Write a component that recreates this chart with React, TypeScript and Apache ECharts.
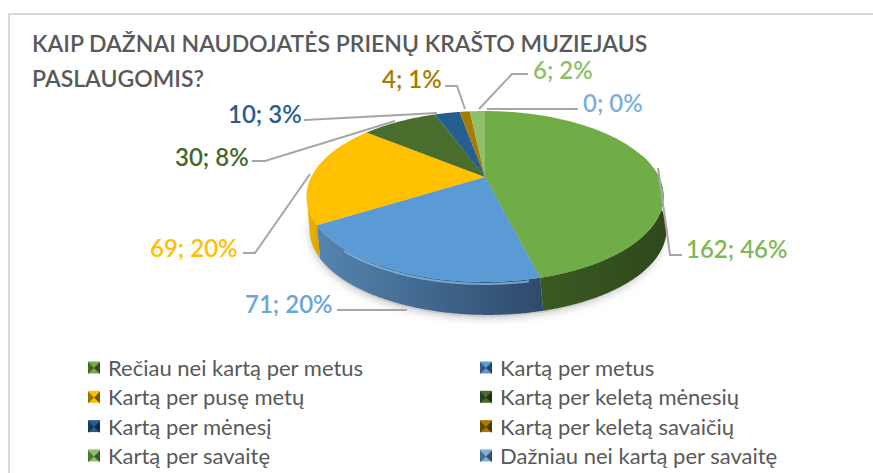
import React, { useEffect, useRef } from "react";
import * as echarts from "echarts";

const titleLines = ["KAIP DAŽNAI NAUDOJATĖS PRIENŲ KRAŠTO MUZIEJAUS", "PASLAUGOMIS?"];
const categories = [
  "Rečiau nei kartą per metus",
  "Kartą per metus",
  "Kartą per pusę metų",
  "Kartą per keletą mėnesių",
  "Kartą per mėnesį",
  "Kartą per keletą savaičių",
  "Kartą per savaitę",
  "Dažniau nei kartą per savaitę",
];
const values = [162, 71, 69, 30, 10, 4, 6, 0];
const percents = [46, 20, 20, 8, 3, 1, 2, 0];

const topColors = ["#70ad47", "#5b9bd5", "#ffc000", "#486d2c", "#255e91", "#a67c00", "#8cc168", "#7cafdd"];
const labelColors = ["#7fba56", "#6aa6dc", "#ffc000", "#43682b", "#255e91", "#a67c00", "#8cc168", "#7cafdd"];
const wallColors: [string, string][] = [
  ["#3a5a22", "#2f481b"],
  ["#5485b0", "#2e4a6a"],
  ["#f2b600", "#d9a200"],
  ["#33501f", "#33501f"],
  ["#1c4569", "#1c4569"],
  ["#725500", "#725500"],
  ["#608c46", "#608c46"],
  ["#4a7aa6", "#4a7aa6"],
];
const leaderLayout: number[][][] = [
  [[658, 168], [670, 255], [682, 255]],
  [[407, 310], [337, 310]],
  [[310, 174], [255, 253], [243, 253]],
  [[395, 121], [265, 161], [252, 161]],
  [[437, 113], [305, 120], [304, 120]],
  [[465, 109], [457, 86], [445, 86]],
  [[479, 109], [512, 74], [528, 74]],
  [[487, 109], [578, 109]],
];
const labelLayout: number[][] = [
  [686, 248], [245, 303], [150, 247], [175, 156], [228, 113], [382, 78], [533, 69], [583, 102],
];

const legendLeftNames = [0, 2, 4, 6].map((i) => categories[i]);
const legendRightNames = [1, 3, 5, 7].map((i) => categories[i]);

const CX = 485, CY = 177, A = 173.8, B = 81, K = 0.228, DEPTH = 33, SHIFT = 3;
const total = values.reduce((a, b) => a + b, 0);

function project(deg: number, dy = 0, dx = 0): number[] {
  const t = (deg * Math.PI) / 180;
  const w = 1 + K * Math.cos(t);
  return [CX + dx + (A * Math.sin(t)) / w, CY + dy + (-B * Math.cos(t)) / w];
}
function arc(a0: number, a1: number, dy = 0, dx = 0): number[][] {
  const pts: number[][] = [];
  const n = Math.max(1, Math.ceil((a1 - a0) / 0.5));
  for (let i = 0; i <= n; i++) pts.push(project(a0 + ((a1 - a0) * i) / n, dy, dx));
  return pts;
}
const tangent = (Math.acos(-K) * 180) / Math.PI;

export default function App() {
  const ref = useRef<HTMLDivElement>(null);
  useEffect(() => {
    const chart = echarts.init(ref.current!, undefined, { renderer: "svg" });
    let cum = 0;
    const series = values.map((v, i) => {
      const start = cum;
      cum += v;
      return {
        type: "custom",
        name: categories[i],
        coordinateSystem: "none",
        itemStyle: { color: topColors[i] },
        silent: true,
        data: [[start, v, percents[i]]],
        renderItem: (_p: any, api: any) => {
          const s = api.value(0), val = api.value(1), pct = api.value(2);
          const a0 = (s / total) * 360, a1 = ((s + val) / total) * 360;
          const children: any[] = [];
          const w0 = Math.max(a0, tangent - 30), w1 = Math.min(a1, 360 - tangent);
          if (val > 0 && w1 > w0) {
            const upper = arc(w0, w1);
            const lower = arc(w0, w1, DEPTH, SHIFT).reverse();
            children.push({
              type: "polygon",
              shape: { points: upper.concat(lower) },
              style: {
                fill: new echarts.graphic.LinearGradient(0, 0, 1, 0, [
                  { offset: 0, color: wallColors[i][0] },
                  { offset: 1, color: wallColors[i][1] },
                ]),
              },
            });
          }
          if (val > 0) {
            children.push({
              type: "polygon",
              shape: { points: [[CX, CY], ...arc(a0, a1)] },
              style: { fill: topColors[i] },
            });
          }
          if (i === 1) {
            children.push({
              type: "polyline",
              shape: { points: arc(a0 + 3, a1 - 16, 2) },
              style: { fill: "none", stroke: "#86c0f2", lineWidth: 2, opacity: 0.75 },
            });
          }
          children.push({
            type: "polyline",
            shape: { points: leaderLayout[i] },
            style: { fill: "none", stroke: "#a6a6a6", lineWidth: 2 },
          });
          children.push({
            type: "text",
            x: labelLayout[i][0],
            y: labelLayout[i][1],
            style: {
              text: `${val}; ${pct}%`,
              fill: labelColors[i],
              font: "600 24px Lato",
              verticalAlign: "middle",
              align: "left",
            },
          });
          return { type: "group", children };
        },
      };
    });

    const legendBase = {
      orient: "vertical",
      top: 356,
      itemWidth: 12,
      itemHeight: 12,
      itemGap: 6.3,
      icon: "rect",
      selectedMode: false,
      padding: 0,
      textStyle: { color: "#595959", fontFamily: "Lato", fontSize: 22, padding: [0, 0, 0, 3], height: 23, lineHeight: 23 },
    };
    const rows = [368, 397.5, 427, 456.5];
    const bevels: any[] = [];
    [88, 480].forEach((x) => {
      rows.forEach((y) => {
        bevels.push({
          type: "polygon", z: 10,
          shape: { points: [[x, y - 6], [x + 6, y], [x, y + 6]] },
          style: { fill: "rgba(0,0,0,0.4)" },
        });
        bevels.push({
          type: "polygon", z: 10,
          shape: { points: [[x + 12, y - 6], [x + 6, y], [x + 12, y + 6]] },
          style: { fill: "rgba(0,0,0,0.55)" },
        });
      });
    });

    const titleStyle = { color: "#595959", fontFamily: "Lato", fontWeight: 600, fontSize: 23, lineHeight: 22 };
    chart.setOption({
      animation: false,
      backgroundColor: "#ffffff",
      title: [
        { text: titleLines[0], left: 32, top: 32, padding: 0, textStyle: titleStyle },
        { text: titleLines[1], left: 32, top: 67, padding: 0, textStyle: titleStyle },
      ],
      legend: [
        { ...legendBase, left: 88, data: legendLeftNames },
        { ...legendBase, left: 480, data: legendRightNames },
      ],
      series,
      graphic: [
        {
          type: "polyline", z: -1,
          shape: { points: [[9, 473], [9, 14], [873, 14]] },
          style: { fill: "none", stroke: "#d9d9d9", lineWidth: 2 },
        },
        {
          type: "ellipse", z: -1,
          shape: { cx: 487, cy: 233, rx: 176, ry: 84 },
          style: { fill: "#cccccc", shadowColor: "rgba(0,0,0,0.28)", shadowBlur: 10 },
        },
        ...bevels,
      ],
    });
    return () => chart.dispose();
  }, []);
  return <div ref={ref} style={{ position: "fixed", left: 0, top: 0, width: 873, height: 473 }} />;
}
